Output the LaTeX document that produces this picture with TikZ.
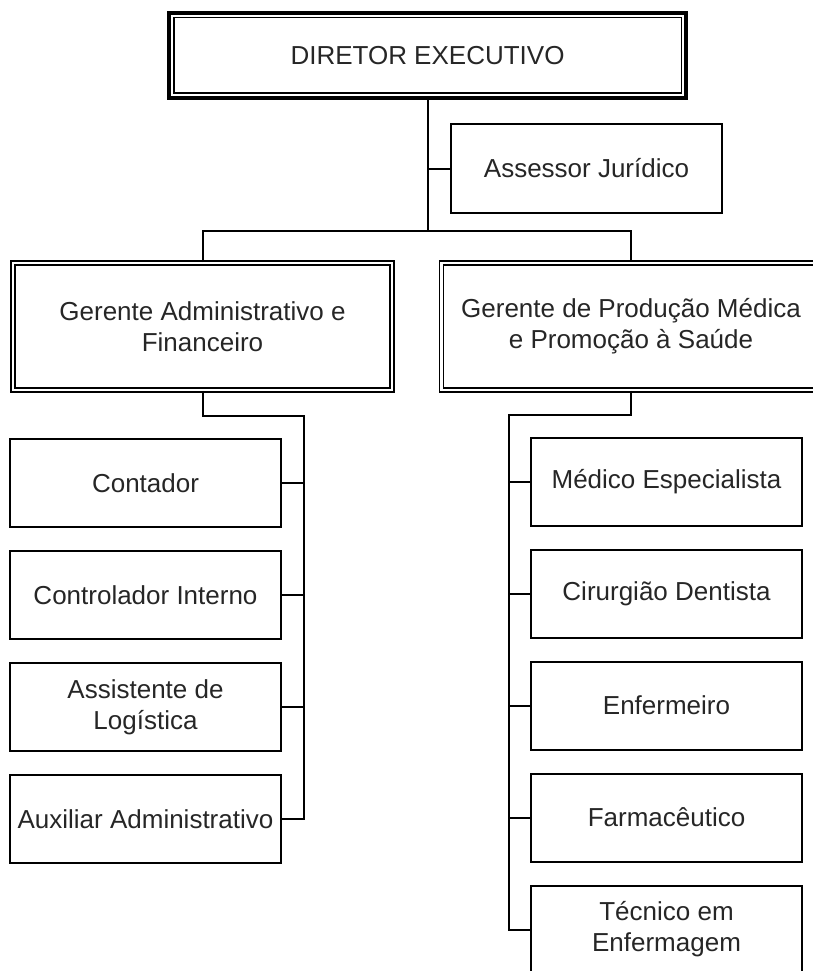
\documentclass[tikz,border=0pt]{standalone}
\usepackage{fontspec}
\setmainfont{Liberation Sans}
\usetikzlibrary{positioning}
\usetikzlibrary{calc}
\tikzstyle{cargo} = [rectangle, draw, black, line width=2pt, inner sep=4pt, minimum width=271pt, minimum height=88pt, align=center, text=black!85, font=\fontsize{26}{31}\selectfont]
\tikzstyle{gerente} = [cargo, double, line width=1.6pt, double distance=2.2pt, minimum width=379pt, minimum height=127pt]
\tikzstyle{diretor} = [cargo, line width=4.5pt, minimum width=517pt, minimum height=85pt]
\tikzstyle{ligacao} = [draw, black, line width=2pt]

\begin{document}
\begin{tikzpicture}[x=1pt, y=-1pt]
            \useasboundingbox (0,0) rectangle (812,971);
            \node[diretor] (diretor) at (427.5,55.5) {DIRETOR EXECUTIVO};
            \draw[line width=1.5pt] ([shift={(7,7)}]diretor.north west) rectangle ([shift={(-7,-7)}]diretor.south east);
            \node[cargo] (assessor) at (586.5,168.5) {Assessor Jurídico};
            \node[gerente] (gadm) at (202.5,326.5) {Gerente Administrativo e\\Financeiro};
            \node[gerente] (gprod) at (631,326.5) {Gerente de Produção Médica\\e Promoção à Saúde};
            % area administrativa
            \node[cargo] (contador) at (145.5,483) {Contador};
            \node[cargo] (controlador) [below = 22pt of contador] {Controlador Interno};
            \node[cargo] (assistente) [below = 22pt of controlador] {Assistente de\\Logística};
            \node[cargo] (auxiliar) [below = 22pt of assistente] {Auxiliar Administrativo};
            % area de producao
            \node[cargo] (medico) at (666.5,481.5) {Médico Especialista};
            \node[cargo] (cirurgiao) [below = 22pt of medico] {Cirurgião Dentista};
            \node[cargo] (enfermeiro) [below = 22pt of cirurgiao] {Enfermeiro};
            \node[cargo] (farmaceutico) [below = 22pt of enfermeiro] {Farmacêutico};
            \node[cargo] (tecnico) [below = 22pt of farmaceutico] {Técnico em\\Enfermagem};
            % ligacoes
            \coordinate (barra) at (427.5,231);
            \coordinate (eixoadm) at (304,416);
            \coordinate (eixoprod) at (509,415);
            \draw[ligacao] (diretor.south) |- (assessor.west);
            \draw[ligacao] (diretor.south) -- (barra);
            \draw[ligacao] (gadm.north) |- (barra) -| (gprod.north);
            \draw[ligacao] (gadm.south) |- (eixoadm) |- (auxiliar.east);
            \foreach \n in {contador, controlador, assistente}
              \draw[ligacao] (\n.east) -- (\n.east -| eixoadm);
            \draw[ligacao] (gprod.south) |- (eixoprod) |- (tecnico.west);
            \foreach \n in {medico, cirurgiao, enfermeiro, farmaceutico}
              \draw[ligacao] (\n.west) -- (\n.west -| eixoprod);
          \end{tikzpicture}
\end{document}
